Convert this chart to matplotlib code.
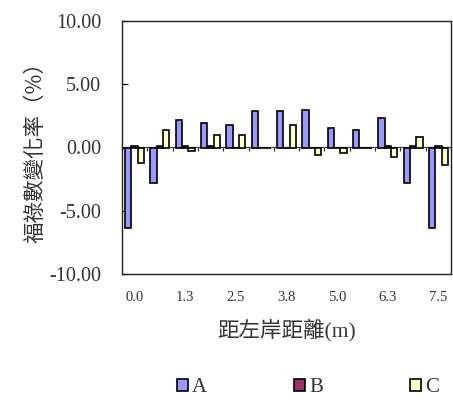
import numpy as np
import matplotlib
matplotlib.use("Agg")
import matplotlib.pyplot as plt

# distance from the left bank (m), one group per station
distances = [0.0, 0.625, 1.25, 1.875, 2.5, 3.125, 3.75, 4.375, 5.0, 5.625, 6.25, 6.875, 7.5]
tick_labels = ["0.0", "1.3", "2.5", "3.8", "5.0", "6.3", "7.5"]

series_a = [-6.4, -2.8, 2.2, 1.9, 1.75, 2.85, 2.85, 3.0, 1.55, 1.4, 2.35, -2.8, -6.4]
series_b = [0.1, 0.1, 0.1, 0.1, 0.0, 0.0, 0.0, 0.0, 0.0, 0.0, 0.1, 0.1, 0.1]
series_c = [-1.2, 1.4, -0.3, 0.95, 0.95, 0.0, 1.75, -0.62, -0.45, 0.0, -0.75, 0.8, -1.4]
series_names = ["A", "B", "C"]
colors = ["#9999FF", "#993366", "#FFFFCC"]

serif = "Liberation Serif"
cjk = ["Liberation Serif", "Noto Sans CJK TC"]
text_color = "#333333"

W, H = 453, 403
fig = plt.figure(figsize=(W / 100, H / 100), dpi=100)
ax = fig.add_axes([122 / W, 1 - 274 / H, 329 / W, 253 / H])

x = np.arange(len(distances))
width = 0.25
offsets = [-width, 0.0, width]
handles = []
for vals, off, col, name in zip([series_a, series_b, series_c], offsets, colors, series_names):
    b = ax.bar(x + off, vals, width=width, color=col, edgecolor="black",
               linewidth=1.2, label=name, zorder=3)
    handles.append(b)

ymin, ymax = -10, 10
ax.set_xlim(-0.5, len(distances) - 0.5)
ax.set_ylim(ymin, ymax)

# y axis
ax.set_yticks(np.arange(ymin, ymax + 0.1, 5))
ax.set_yticklabels([f"{v:.2f}" for v in np.arange(ymin, ymax + 0.1, 5)],
                   fontfamily=serif, fontsize=14.5, color=text_color)
ax.tick_params(axis="y", direction="in", length=4.5, width=0.9, pad=15)

# category labels under the frame, every second station
ax.set_xticks(x[::2])
ax.set_xticklabels(tick_labels, fontfamily=serif, fontsize=10.5, color=text_color)
ax.tick_params(axis="x", length=0, pad=12)

for s in ax.spines.values():
    s.set_linewidth(1.0)
    s.set_color("#222222")

# zero line with small tick marks between groups
zero_frac = (0 - ymin) / (ymax - ymin)
sec = ax.secondary_xaxis(zero_frac)
sec.set_xticks(np.arange(-0.5, len(distances), 1.0))
sec.tick_params(axis="x", direction="in", length=3, width=0.9, labelbottom=False,
                labeltop=False, color="#333333")
for s in sec.spines.values():
    s.set_linewidth(0.9)
    s.set_color("#444444")

ax.set_ylabel("福祿數變化率（%）", family=["Noto Sans CJK TC"], fontsize=15.5,
              color=text_color)
ax.yaxis.set_label_coords(-(122 - 47) / 329, 0.5)
ax.set_xlabel("距左岸距離(m)", family=cjk, fontsize=15.5, color=text_color)
ax.xaxis.set_label_coords(0.5, -(319 - 274) / 253)

fig.legend(handles=handles, labels=series_names, loc="center", ncol=3,
           bbox_to_anchor=(308 / W, 1 - 388 / H), frameon=False,
           prop={"family": serif, "size": 15}, handlelength=0.5,
           handleheight=0.5, handletextpad=0.2, columnspacing=4.2, borderpad=0,
           labelcolor=text_color)

fig.savefig("out.png", dpi=100)
